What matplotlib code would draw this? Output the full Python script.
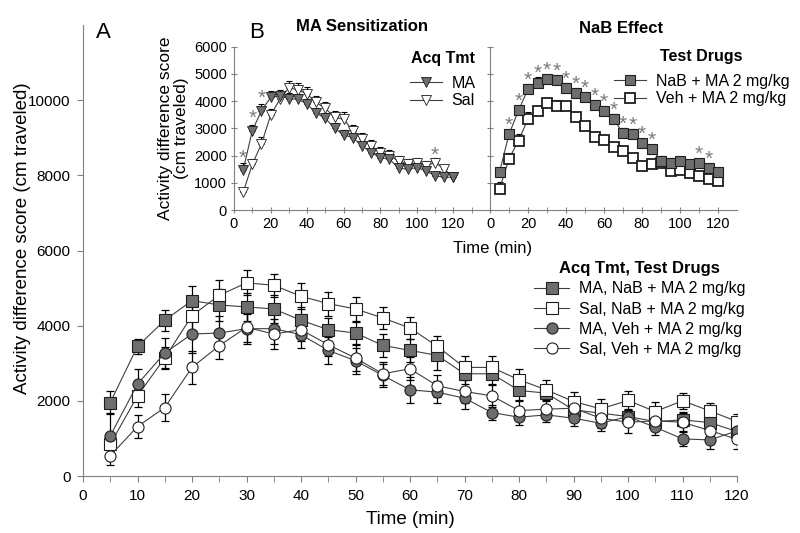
import matplotlib
matplotlib.use('Agg')
import matplotlib.pyplot as plt
import numpy as np

plt.rcParams['font.family'] = ['Liberation Sans', 'DejaVu Sans']

# ---------------- data ----------------
time = [5, 10, 15, 20, 25, 30, 35, 40, 45, 50, 55, 60,
        65, 70, 75, 80, 85, 90, 95, 100, 105, 110, 115, 120]

# Panel A
a_ma_nab = [1955, 3449, 4143, 4667, 4551, 4498, 4445, 4143, 3893, 3804, 3476, 3342,
            3209, 2720, 2720, 2276, 2205, 1760, 1672, 1582, 1449, 1493, 1422, 1182]
a_ma_nab_err = [300, 200, 280, 380, 420, 380, 380, 350, 300, 300, 300, 300,
                380, 280, 280, 250, 200, 200, 180, 180, 200, 200, 200, 180]
a_sal_nab = [845, 2133, 3138, 4267, 4809, 5138, 5076, 4782, 4587, 4445, 4205, 3938,
             3449, 2889, 2889, 2560, 2293, 1982, 1787, 2009, 1716, 2000, 1733, 1449]
a_sal_nab_err = [250, 300, 300, 400, 400, 330, 300, 350, 320, 330, 300, 300,
                 280, 300, 300, 300, 250, 250, 250, 250, 250, 220, 220, 200]
a_ma_veh = [1067, 2445, 3271, 3778, 3804, 3920, 3920, 3760, 3342, 3067, 2676, 2293,
            2231, 2071, 1689, 1564, 1627, 1538, 1404, 1582, 1298, 987, 960, 1200]
a_ma_veh_err = [600, 400, 400, 500, 450, 400, 400, 350, 350, 350, 300, 350,
                300, 300, 200, 200, 200, 200, 200, 200, 200, 200, 250, 200]
a_sal_veh = [542, 1316, 1822, 2889, 3467, 3956, 3778, 3893, 3493, 3138, 2720, 2853,
             2400, 2249, 2133, 1742, 1778, 1804, 1538, 1431, 1467, 1431, 1209, 978]
a_sal_veh_err = [250, 300, 350, 450, 350, 400, 400, 300, 300, 350, 300, 300,
                 300, 300, 300, 250, 250, 250, 250, 300, 250, 250, 250, 250]
a_labels = ['MA, NaB + MA 2 mg/kg', 'Sal, NaB + MA 2 mg/kg',
            'MA, Veh + MA 2 mg/kg', 'Sal, Veh + MA 2 mg/kg']

# Panel B left: MA Sensitization
b_ma = [1463, 2915, 3646, 4134, 4200, 4085, 4073, 3890, 3560, 3366, 3000, 2756,
        2659, 2366, 2110, 1927, 1866, 1537, 1500, 1561, 1439, 1256, 1207, 1200]
b_ma_err = [250, 220, 250, 250, 200, 200, 200, 200, 200, 200, 200, 200,
            180, 180, 180, 180, 180, 150, 150, 150, 150, 150, 150, 150]
b_sal = [646, 1683, 2427, 3476, 4061, 4490, 4415, 4256, 3951, 3732, 3402, 3341,
         2902, 2598, 2354, 2110, 1988, 1805, 1695, 1732, 1622, 1744, 1500, 1195]
b_sal_err = [150, 200, 250, 250, 250, 250, 250, 250, 250, 250, 250, 250,
             220, 220, 200, 200, 200, 180, 180, 180, 170, 170, 170, 150]
b_stars_ma = [5, 10, 15]
b_stars_sal = [110]

# Panel B right: NaB Effect
c_nab = [1390, 2780, 3658, 4439, 4683, 4805, 4768, 4476, 4293, 4134, 3854, 3646,
         3341, 2829, 2793, 2451, 2244, 1817, 1744, 1805, 1683, 1732, 1549, 1378]
c_nab_err = [150, 150, 150, 200, 200, 150, 200, 180, 180, 170, 170, 170,
             170, 170, 170, 170, 150, 150, 150, 150, 150, 150, 150, 150]
c_veh = [780, 1878, 2549, 3341, 3634, 3915, 3829, 3829, 3402, 3085, 2695, 2573,
         2305, 2159, 1902, 1634, 1695, 1732, 1451, 1463, 1366, 1256, 1122, 1049]
c_veh_err = [250, 200, 250, 250, 200, 170, 200, 180, 170, 170, 170, 170,
             150, 150, 150, 150, 150, 150, 150, 150, 150, 150, 150, 150]
c_stars = [10, 15, 20, 25, 30, 35, 40, 45, 50, 55, 60, 65, 70, 75, 80, 85, 110, 115]

GRAY = '#6e6e6e'
EDGE = '#1e1e1e'
LINE = '#404040'
SPINE = '#808080'
STAR = '#7a7a7a'

fig = plt.figure(figsize=(8, 5.33), dpi=100)
W, H = 800.0, 533.0

# ---------------- Panel A ----------------
axA = fig.add_axes([83 / W, 1 - 476 / H, (737 - 83) / W, (476 - 25) / H])
styles = [('s', GRAY), ('s', 'white'), ('o', GRAY), ('o', 'white')]
series = [(a_ma_nab, a_ma_nab_err), (a_sal_nab, a_sal_nab_err),
          (a_ma_veh, a_ma_veh_err), (a_sal_veh, a_sal_veh_err)]
for (vals, err), (mk, fc), lab in zip(series, styles, a_labels):
    axA.errorbar(time, vals, yerr=err, fmt='none', ecolor='black',
                 elinewidth=0.9, capsize=3.2, capthick=0.9, zorder=2)
    axA.plot(time, vals, color=LINE, lw=0.8, marker=mk, ms=8,
             mfc=fc, mec=EDGE, mew=0.8, label=lab, zorder=3)
axA.set_xlim(0, 120)
axA.set_ylim(0, 12000)
axA.set_xticks(range(0, 121, 10))
axA.set_xticks(range(5, 121, 10), minor=True)
axA.set_yticks(range(0, 10001, 2000))
for s in ['top', 'right']:
    axA.spines[s].set_visible(False)
for s in ['left', 'bottom']:
    axA.spines[s].set_color(SPINE)
axA.tick_params(which='both', direction='out', length=4, color=SPINE,
                labelsize=11, pad=5)
axA.set_xlabel('Time (min)', fontsize=13.5, labelpad=6)
fig.text(23 / W, 1 - 238 / H, 'Activity difference score (cm traveled)',
         fontsize=13.5, rotation=90, ha='center', va='center')
legA = axA.legend(loc='upper left', bbox_to_anchor=(534 / W, 1 - 261 / H),
                  bbox_transform=fig.transFigure, frameon=False, fontsize=11.5,
                  title='Acq Tmt, Test Drugs', handlelength=2.2, handletextpad=0.6,
                  labelspacing=0.33, borderpad=0, borderaxespad=0)
legA.get_title().set_fontweight('bold')
legA.get_title().set_fontsize(12)

fig.text(96 / W, 1 - 33 / H, 'A', fontsize=16, va='center', ha='left')
fig.text(249 / W, 1 - 33 / H, 'B', fontsize=16, va='center', ha='left')

# ---------------- Panel B ----------------
axB = fig.add_axes([234 / W, 1 - 210 / H, 256 / W, 163.3 / H])
axC = fig.add_axes([490 / W, 1 - 210 / H, 247 / W, 163.3 / H])


def upper(err):
    return [np.zeros(len(err)), err]


axB.errorbar(time, b_ma, yerr=upper(b_ma_err), fmt='none', ecolor='black',
             elinewidth=0.8, capsize=2.5, capthick=0.8, zorder=2)
axB.errorbar(time, b_sal, yerr=upper(b_sal_err), fmt='none', ecolor='black',
             elinewidth=0.8, capsize=2.5, capthick=0.8, zorder=2)
axB.plot(time, b_ma, color=LINE, lw=0.8, marker='v', ms=7.5, mfc=GRAY,
         mec=EDGE, mew=0.6, label='MA', zorder=4)
axB.plot(time, b_sal, color=LINE, lw=0.8, marker='v', ms=7.5, mfc='white',
         mec=EDGE, mew=0.6, label='Sal', zorder=3)
for t in b_stars_ma:
    i = time.index(t)
    axB.text(t, b_ma[i] + 250, '*', ha='center', va='baseline', color=STAR, fontsize=15)
for t in b_stars_sal:
    i = time.index(t)
    axB.text(t, b_sal[i] + 60, '*', ha='center', va='baseline', color=STAR, fontsize=15)
axB.set_xlim(0, 140)
axB.set_ylim(0, 6000)
axB.set_xticks(range(0, 121, 20))
axB.set_xticks(range(10, 131, 20), minor=True)
axB.set_yticks(range(0, 6001, 1000))
axB.set_title('MA Sensitization', fontsize=12, fontweight='bold', pad=11, x=0.5)
axB.set_ylabel('Activity difference score\n(cm traveled)', fontsize=12.5,
               labelpad=4, linespacing=1.05)
legB = axB.legend(loc='upper left', bbox_to_anchor=(410 / W, 1 - 51 / H),
                  bbox_transform=fig.transFigure, frameon=False, fontsize=11.5,
                  title='Acq Tmt', handlelength=2.0, handletextpad=0.6,
                  labelspacing=0.15, borderpad=0, borderaxespad=0)
legB.get_title().set_fontweight('bold')
legB.get_title().set_fontsize(11.5)
legB._legend_box.sep = 7

axC.errorbar(time, c_nab, yerr=upper(c_nab_err), fmt='none', ecolor='black',
             elinewidth=0.8, capsize=2.5, capthick=0.8, zorder=2)
axC.errorbar(time, c_veh, yerr=upper(c_veh_err), fmt='none', ecolor='black',
             elinewidth=0.8, capsize=2.5, capthick=0.8, zorder=2)
axC.plot(time, c_nab, color=LINE, lw=0.8, marker='s', ms=7, mfc=GRAY,
         mec=EDGE, mew=0.8, label='NaB + MA 2 mg/kg', zorder=4)
axC.plot(time, c_veh, color=LINE, lw=0.8, marker='s', ms=7, mfc='white',
         mec=EDGE, mew=1.3, label='Veh + MA 2 mg/kg', zorder=3)
for t in c_stars:
    i = time.index(t)
    axC.text(t, c_nab[i] + 120, '*', ha='center', va='baseline', color=STAR, fontsize=15)
axC.set_xlim(0, 130)
axC.set_ylim(0, 6000)
axC.set_xticks(range(0, 121, 20))
axC.set_xticks(range(10, 121, 20), minor=True)
axC.set_yticks(range(0, 6001, 1000))
axC.set_yticklabels([])
axC.set_title('NaB Effect', fontsize=12, fontweight='bold', pad=10, x=0.53)
legC = axC.legend(loc='upper left', bbox_to_anchor=(614 / W, 1 - 49 / H),
                  bbox_transform=fig.transFigure, frameon=False, fontsize=11.5,
                  title='Test Drugs', handlelength=2.0, handletextpad=0.6,
                  labelspacing=0.15, borderpad=0, borderaxespad=0)
legC.get_title().set_fontweight('bold')
legC.get_title().set_fontsize(11.5)
legC._legend_box.sep = 7

for ax in (axB, axC):
    for s in ['top', 'right']:
        ax.spines[s].set_visible(False)
    for s in ['left', 'bottom']:
        ax.spines[s].set_color(SPINE)
    ax.tick_params(which='both', direction='inout', length=4, color=SPINE,
                   labelsize=10.5, pad=3)
    ax.patch.set_alpha(0)

fig.text(493 / W, 1 - 248 / H, 'Time (min)', fontsize=12, ha='center', va='center')

fig.savefig('out.png', dpi=100)
